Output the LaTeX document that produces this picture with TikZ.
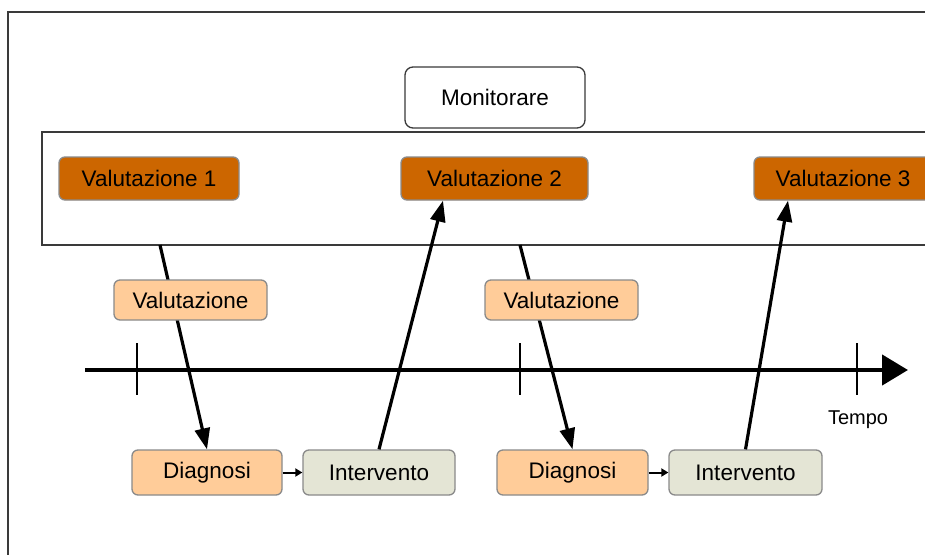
\documentclass[tikz,border=0pt]{standalone}
\usepackage{fontspec}
\setmainfont{Liberation Sans}
\usetikzlibrary{arrows.meta,calc}
\definecolor{darkor}{HTML}{CC6600}
\definecolor{lightor}{HTML}{FFCC99}
\definecolor{interv}{HTML}{E4E5D5}
\definecolor{boxline}{HTML}{8A8A8A}
\definecolor{frameline}{HTML}{3A3A3A}
\tikzset{
  lbl/.style={font=\fontsize{22.5}{26}\selectfont, text=black, inner sep=0pt},
  boxbase/.style={lbl, draw=boxline, line width=1.3pt, rounded corners=6pt},
  evalbox/.style={boxbase, fill=darkor, minimum height=43pt},
  valbox/.style={boxbase, fill=lightor, minimum height=40pt, minimum width=153pt},
  diagbox/.style={boxbase, fill=lightor, minimum height=45pt},
  intbox/.style={boxbase, fill=interv, minimum height=45pt},
  monbox/.style={lbl, draw=frameline, line width=1.3pt, fill=white, rounded corners=8pt, minimum width=180pt, minimum height=61pt},
  bigarrow/.style={line width=3.2pt, -{Triangle[length=21pt,width=15pt]}},
  smallarrow/.style={line width=2pt, -{Triangle[length=7pt,width=8pt]}},
  tick/.style={line width=2pt},
  frame/.style={draw=frameline, line width=2.2pt}
}
\begin{document}
\begin{tikzpicture}[x=1pt,y=-1pt]
\clip (0,0) rectangle (925,554);
\fill[white] (0,0) rectangle (925,554);
% outer frame (left and top edges)
\draw[frame] (8,560) -- (8,12) -- (935,12);
% big band
\node[frame, minimum width=900pt, minimum height=113pt, inner sep=0pt] (band) at (492,188.5) {};
% monitorare
\node[monbox] (mon) at (495,97.5) {Monitorare};
% evaluations
\node[evalbox, minimum width=180pt] (v1) at (149,178.5) {Valutazione 1};
\node[evalbox, minimum width=187pt] (v2) at (494.5,178.5) {Valutazione 2};
\node[evalbox, minimum width=178pt] (v3) at (843,178.5) {Valutazione 3};
% timeline
\coordinate (t0) at (85,370);
\coordinate (t1) at (908,370);
\coordinate (k1a) at (137,343); \coordinate (k1b) at (137,395);
\coordinate (k2a) at (520,343); \coordinate (k2b) at (520,395);
\coordinate (k3a) at (857,343); \coordinate (k3b) at (857,395);
\draw[line width=4.5pt, -{Triangle[length=26pt,width=30pt]}] (t0) -- (t1);
\draw[tick] (k1a) -- (k1b);
\draw[tick] (k2a) -- (k2b);
\draw[tick] (k3a) -- (k3b);
\node[lbl, font=\fontsize{20}{24}\selectfont] (tempo) at (858,420) {Tempo};
% bottom boxes
\node[diagbox, minimum width=150pt] (d1) at (207,472.5) {Diagnosi};
\node[intbox, minimum width=152pt] (i1) at (379,472.5) {Intervento};
\node[diagbox, minimum width=151pt] (d2) at (572.5,472.5) {Diagnosi};
\node[intbox, minimum width=153pt] (i2) at (745.5,472.5) {Intervento};
% connectors
\coordinate (s1) at (160,245);
\coordinate (s3) at (520,245);
\draw[bigarrow] (s1) -- (d1.north);
\draw[bigarrow] (i1.north) -- ([xshift=-51.5pt]v2.south);
\draw[bigarrow] (s3) -- (d2.north);
\draw[bigarrow] (i2.north) -- ([xshift=-55pt]v3.south);
\draw[smallarrow] (d1.east) -- (i1.west);
\draw[smallarrow] (d2.east) -- (i2.west);
% light evaluation boxes (over the connectors)
\node[valbox] (l1) at (190.5,300) {Valutazione};
\node[valbox] (l2) at (561.5,300) {Valutazione};
\end{tikzpicture}
\end{document}
